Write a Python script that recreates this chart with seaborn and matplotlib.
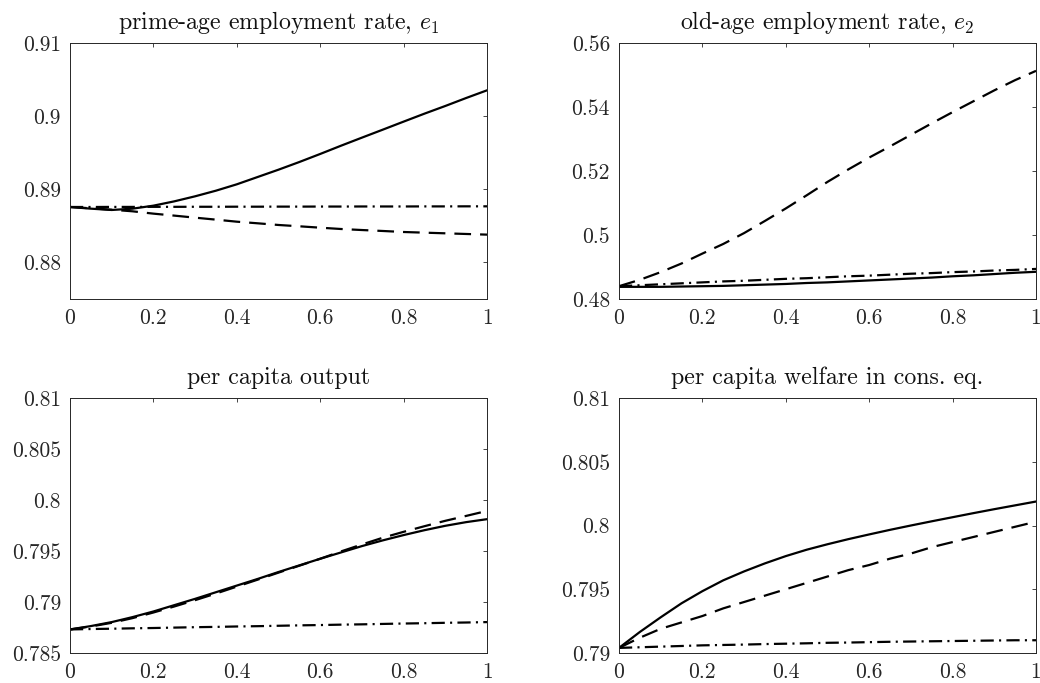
import numpy as np
import pandas as pd
import matplotlib
matplotlib.use("Agg")
import matplotlib.pyplot as plt
import seaborn as sns

sns.set_style("white")
plt.rcParams["font.family"] = ["cmr10", "DejaVu Serif"]
plt.rcParams["mathtext.fontset"] = "cm"
plt.rcParams["axes.formatter.use_mathtext"] = True
plt.rcParams["lines.scale_dashes"] = False

x = [0.0, 0.05, 0.1, 0.15, 0.2, 0.25, 0.3, 0.35, 0.4, 0.45, 0.5,
     0.55, 0.6, 0.65, 0.7, 0.75, 0.8, 0.85, 0.9, 0.95, 1.0]

# prime-age employment rate
e1_solid = [0.88758, 0.88735, 0.88717, 0.88735, 0.88776, 0.88835, 0.88904, 0.88981, 0.89068, 0.89168, 0.89268,
            0.89373, 0.89483, 0.89596, 0.89706, 0.89815, 0.89925, 0.90034, 0.90139, 0.90248, 0.90353]
e1_dash = [0.88758, 0.88740, 0.88721, 0.88699, 0.88667, 0.88640, 0.88612, 0.88585, 0.88557, 0.88535, 0.88512,
           0.88494, 0.88475, 0.88457, 0.88443, 0.88430, 0.88416, 0.88407, 0.88398, 0.88389, 0.88380]
e1_dashdot = [0.88758, 0.88758, 0.88759, 0.88759, 0.88760, 0.88760, 0.88761, 0.88761, 0.88762, 0.88762, 0.88763,
              0.88763, 0.88764, 0.88764, 0.88765, 0.88765, 0.88765, 0.88766, 0.88766, 0.88767, 0.88767]

# old-age employment rate
e2_solid = [0.4838, 0.4838, 0.4838, 0.4839, 0.4840, 0.4841, 0.4843, 0.4845, 0.4847, 0.4850, 0.4852,
            0.4855, 0.4858, 0.4861, 0.4864, 0.4867, 0.4871, 0.4874, 0.4878, 0.4882, 0.4885]
e2_dash = [0.4840, 0.4860, 0.4884, 0.4911, 0.4942, 0.4972, 0.5006, 0.5044, 0.5083, 0.5124, 0.5166,
           0.5205, 0.5242, 0.5277, 0.5313, 0.5349, 0.5384, 0.5418, 0.5452, 0.5484, 0.5513]
e2_dashdot = [0.4840, 0.4843, 0.4846, 0.4849, 0.4852, 0.4855, 0.4857, 0.4860, 0.4863, 0.4865, 0.4868,
              0.4871, 0.4873, 0.4876, 0.4879, 0.4881, 0.4884, 0.4886, 0.4889, 0.4891, 0.4894]

# per capita output
y_solid = [0.78731, 0.78764, 0.78803, 0.78852, 0.78907, 0.78969, 0.79031, 0.79096, 0.79161, 0.79226, 0.79294,
           0.79359, 0.79424, 0.79486, 0.79548, 0.79604, 0.79656, 0.79704, 0.79747, 0.79783, 0.79812]
y_dash = [0.78731, 0.78760, 0.78796, 0.78842, 0.78897, 0.78956, 0.79018, 0.79083, 0.79151, 0.79219, 0.79288,
          0.79356, 0.79424, 0.79496, 0.79564, 0.79630, 0.79688, 0.79743, 0.79796, 0.79844, 0.79893]
y_dashdot = [0.78731, 0.78735, 0.78738, 0.78742, 0.78745, 0.78749, 0.78753, 0.78756, 0.78760, 0.78763, 0.78767,
             0.78771, 0.78774, 0.78778, 0.78781, 0.78785, 0.78789, 0.78792, 0.78796, 0.78799, 0.78803]

# per capita welfare in consumption equivalents
w_solid = [0.7904, 0.79165, 0.7928, 0.7939, 0.79485, 0.7957, 0.7964, 0.79703, 0.7976, 0.7981, 0.79853,
           0.79893, 0.7993, 0.79966, 0.8000, 0.80033, 0.80065, 0.80097, 0.80128, 0.80158, 0.80188]
w_dash = [0.7904, 0.7912, 0.7919, 0.7924, 0.7929, 0.7935, 0.7940, 0.7945, 0.7950, 0.7955, 0.7960,
          0.7965, 0.7969, 0.7974, 0.7978, 0.7983, 0.7987, 0.7991, 0.7995, 0.7999, 0.8003]
w_dashdot = [0.7904, 0.79045, 0.7905, 0.79055, 0.7906, 0.79063, 0.79066, 0.7907, 0.79073, 0.79076, 0.7908,
             0.79082, 0.79085, 0.79088, 0.7909, 0.79092, 0.79094, 0.79096, 0.79098, 0.791, 0.791]

titles = ["prime-age employment rate, $e_1$", "old-age employment rate, $e_2$",
          "per capita output", "per capita welfare in cons. eq."]
series = [(e1_solid, e1_dash, e1_dashdot), (e2_solid, e2_dash, e2_dashdot),
          (y_solid, y_dash, y_dashdot), (w_solid, w_dash, w_dashdot)]
ylims = [(0.875, 0.91), (0.48, 0.56), (0.785, 0.81), (0.79, 0.81)]
yticks = [[0.88, 0.89, 0.90, 0.91], [0.48, 0.50, 0.52, 0.54, 0.56],
          [0.785, 0.79, 0.795, 0.80, 0.805, 0.81], [0.79, 0.795, 0.80, 0.805, 0.81]]
xticks = [0, 0.2, 0.4, 0.6, 0.8, 1.0]

styles = ["-", (0, (12, 6.5)), (0, (9.5, 3.8, 1.5, 3.8))]

fig = plt.figure(figsize=(10.4, 6.83), dpi=100)
W, H = 1040, 683
rects = [(70, 43, 487, 299), (619, 43, 1036, 299), (70, 398, 487, 653), (619, 398, 1036, 653)]

def fmt(v):
    return f"{v:.3f}".rstrip("0").rstrip(".")

for i in range(4):
    l, t, r, b = rects[i]
    ax = fig.add_axes([l / W, 1 - b / H, (r - l) / W, (b - t) / H])
    for s, ls in zip(series[i], styles):
        sns.lineplot(x=x, y=s, ax=ax, color="k", linewidth=1.6, linestyle=ls)
    ax.set_xlim(0, 1)
    ax.set_ylim(*ylims[i])
    ax.set_xticks(xticks)
    ax.set_xticklabels([fmt(v) for v in xticks])
    ax.set_yticks(yticks[i])
    ax.set_yticklabels([fmt(v) for v in yticks[i]])
    ax.tick_params(direction="in", length=3, width=0.6, top=True, right=True,
                   labelsize=15.5, colors="#262626", labelcolor="#262626")
    ax.tick_params(axis="y", pad=6.5)
    ax.tick_params(axis="x", pad=6.5)
    for sp in ax.spines.values():
        sp.set_linewidth(0.7)
        sp.set_color("#262626")
    ax.set_title(titles[i], fontsize=17.2, pad=10, color="#111111")

fig.savefig("out.png", dpi=100)
